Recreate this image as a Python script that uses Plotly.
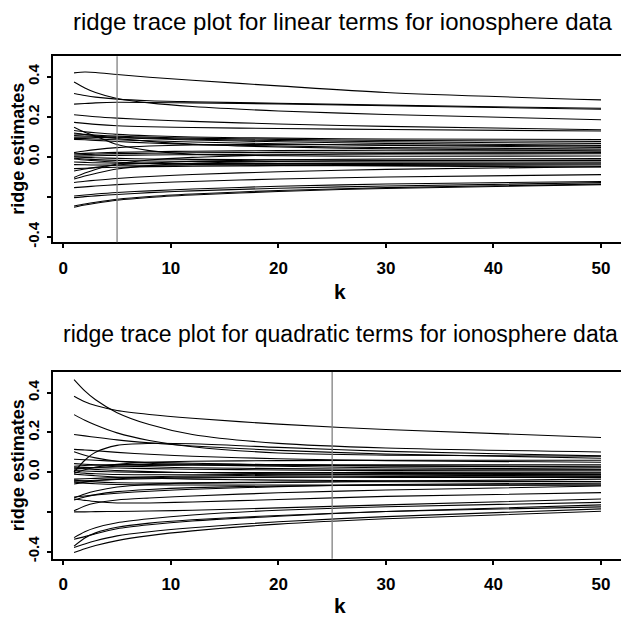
import plotly.graph_objects as go

# ---------------- data ----------------
k_points = [1, 2, 3, 5, 8, 12, 20, 30, 50]

linear_traces = [
    [0.420, 0.424, 0.422, 0.412, 0.398, 0.383, 0.355, 0.322, 0.285],
    [0.374, 0.345, 0.322, 0.292, 0.270, 0.252, 0.230, 0.212, 0.186],
    [0.317, 0.307, 0.299, 0.289, 0.281, 0.276, 0.268, 0.259, 0.243],
    [0.264, 0.267, 0.270, 0.273, 0.272, 0.270, 0.265, 0.256, 0.238],
    [0.211, 0.206, 0.201, 0.194, 0.186, 0.178, 0.165, 0.153, 0.136],
    [0.173, 0.168, 0.163, 0.156, 0.151, 0.147, 0.142, 0.137, 0.130],
    [0.149, 0.124, 0.104, 0.062, 0.032, 0.014, 0.006, 0.004, 0.005],
    [0.132, 0.126, 0.121, 0.113, 0.106, 0.100, 0.094, 0.090, 0.087],
    [0.115, 0.112, 0.109, 0.104, 0.099, 0.094, 0.088, 0.083, 0.078],
    [0.107, 0.105, 0.103, 0.099, 0.094, 0.089, 0.082, 0.076, 0.068],
    [0.099, 0.099, 0.098, 0.096, 0.091, 0.085, 0.076, 0.068, 0.058],
    [0.093, 0.092, 0.090, 0.086, 0.081, 0.075, 0.066, 0.058, 0.048],
    [0.088, 0.086, 0.083, 0.077, 0.070, 0.063, 0.055, 0.047, 0.040],
    [0.016, 0.018, 0.020, 0.023, 0.026, 0.029, 0.032, 0.034, 0.035],
    [0.010, 0.012, 0.014, 0.017, 0.019, 0.021, 0.023, 0.024, 0.025],
    [0.004, 0.005, 0.006, 0.008, 0.010, 0.012, 0.014, 0.015, 0.016],
    [0.000, -0.002, -0.004, -0.007, -0.010, -0.012, -0.014, -0.016, -0.017],
    [-0.006, -0.010, -0.013, -0.017, -0.020, -0.022, -0.024, -0.025, -0.025],
    [-0.025, -0.027, -0.029, -0.031, -0.032, -0.033, -0.033, -0.032, -0.030],
    [-0.038, -0.039, -0.040, -0.041, -0.041, -0.040, -0.039, -0.037, -0.035],
    [-0.058, -0.056, -0.054, -0.051, -0.048, -0.046, -0.044, -0.042, -0.040],
    [-0.102, -0.080, -0.062, -0.035, -0.015, -0.002, 0.010, 0.017, 0.022],
    [-0.110, -0.095, -0.082, -0.060, -0.043, -0.031, -0.022, -0.018, -0.017],
    [-0.127, -0.121, -0.116, -0.107, -0.097, -0.087, -0.074, -0.062, -0.048],
    [-0.153, -0.149, -0.145, -0.138, -0.130, -0.122, -0.110, -0.100, -0.088],
    [-0.195, -0.190, -0.185, -0.177, -0.169, -0.160, -0.146, -0.135, -0.122],
    [-0.203, -0.198, -0.194, -0.187, -0.178, -0.169, -0.156, -0.145, -0.128],
    [-0.245, -0.235, -0.226, -0.211, -0.197, -0.185, -0.167, -0.153, -0.135],
    [-0.251, -0.240, -0.231, -0.216, -0.202, -0.190, -0.172, -0.157, -0.138],
    [0.022, 0.030, 0.037, 0.047, 0.055, 0.060, 0.062, 0.060, 0.055],
    [-0.070, -0.060, -0.052, -0.040, -0.030, -0.022, -0.014, -0.010, -0.008],
    [0.120, 0.113, 0.105, 0.092, 0.078, 0.064, 0.050, 0.041, 0.030],
    [-0.010, -0.015, -0.019, -0.026, -0.032, -0.037, -0.042, -0.045, -0.050],
]

quadratic_traces = [
    [0.383, 0.355, 0.336, 0.311, 0.291, 0.272, 0.242, 0.215, 0.175],
    [0.467, 0.410, 0.365, 0.300, 0.240, 0.190, 0.145, 0.122, 0.102],
    [0.290, 0.262, 0.238, 0.198, 0.160, 0.128, 0.097, 0.086, 0.080],
    [0.000, 0.060, 0.100, 0.135, 0.145, 0.143, 0.125, 0.105, 0.082],
    [0.190, 0.183, 0.176, 0.163, 0.148, 0.132, 0.110, 0.092, 0.070],
    [0.115, 0.112, 0.108, 0.100, 0.090, 0.080, 0.068, 0.058, 0.050],
    [0.103, 0.085, 0.072, 0.055, 0.045, 0.040, 0.038, 0.037, 0.037],
    [0.065, 0.063, 0.060, 0.055, 0.050, 0.045, 0.037, 0.031, 0.025],
    [0.043, 0.040, 0.037, 0.032, 0.027, 0.022, 0.018, 0.015, 0.015],
    [0.025, 0.024, 0.023, 0.021, 0.018, 0.015, 0.011, 0.008, 0.007],
    [0.015, 0.020, 0.024, 0.030, 0.034, 0.036, 0.035, 0.032, 0.027],
    [0.008, 0.006, 0.004, 0.001, -0.001, -0.002, -0.002, -0.001, 0.000],
    [0.000, -0.005, -0.008, -0.012, -0.013, -0.013, -0.010, -0.007, -0.005],
    [-0.005, 0.012, 0.025, 0.040, 0.050, 0.055, 0.058, 0.060, 0.060],
    [-0.035, -0.033, -0.031, -0.027, -0.023, -0.019, -0.015, -0.013, -0.012],
    [-0.045, -0.043, -0.041, -0.037, -0.033, -0.029, -0.025, -0.022, -0.020],
    [-0.060, -0.050, -0.043, -0.034, -0.028, -0.025, -0.025, -0.026, -0.027],
    [-0.040, -0.045, -0.049, -0.053, -0.055, -0.055, -0.052, -0.045, -0.035],
    [-0.130, -0.110, -0.095, -0.075, -0.062, -0.054, -0.050, -0.048, -0.047],
    [-0.135, -0.142, -0.148, -0.155, -0.155, -0.150, -0.138, -0.122, -0.103],
    [-0.140, -0.125, -0.113, -0.098, -0.087, -0.078, -0.070, -0.066, -0.065],
    [-0.125, -0.120, -0.115, -0.106, -0.096, -0.086, -0.073, -0.062, -0.055],
    [-0.195, -0.170, -0.155, -0.140, -0.130, -0.120, -0.104, -0.090, -0.070],
    [-0.200, -0.200, -0.199, -0.198, -0.196, -0.192, -0.180, -0.165, -0.135],
    [-0.330, -0.300, -0.280, -0.255, -0.235, -0.216, -0.192, -0.174, -0.152],
    [-0.338, -0.325, -0.310, -0.285, -0.265, -0.246, -0.222, -0.198, -0.165],
    [-0.373, -0.332, -0.306, -0.278, -0.257, -0.240, -0.218, -0.198, -0.175],
    [-0.380, -0.362, -0.346, -0.321, -0.300, -0.280, -0.250, -0.224, -0.185],
    [-0.405, -0.386, -0.370, -0.345, -0.320, -0.296, -0.262, -0.235, -0.197],
    [0.020, 0.017, 0.014, 0.008, 0.003, -0.002, -0.008, -0.014, -0.020],
    [-0.010, -0.014, -0.018, -0.024, -0.030, -0.035, -0.040, -0.043, -0.047],
    [0.030, 0.034, 0.036, 0.038, 0.038, 0.036, 0.030, 0.022, 0.015],
    [-0.050, -0.055, -0.058, -0.062, -0.064, -0.065, -0.065, -0.065, -0.065],
]

chosen_k_linear = 5
chosen_k_quadratic = 25

x_tickvals = [0, 10, 20, 30, 40, 50]
y_tickvals = [-0.4, -0.2, 0.0, 0.2, 0.4]
y_ticktext = ["-0.4", "", "0.0", "0.2", "0.4"]

title_linear = "ridge trace plot for linear terms for ionosphere data"
title_quadratic = "ridge trace plot for quadratic terms for ionosphere data"
x_title = "k"
y_title = "ridge estimates"

# ---------------- figure ----------------
W, H = 621, 622
fig = go.Figure()

for tr in linear_traces:
    fig.add_trace(go.Scatter(x=k_points, y=tr, mode="lines", xaxis="x", yaxis="y",
                             line=dict(color="black", width=1.1, shape="spline", smoothing=0.8),
                             showlegend=False, hoverinfo="skip"))
for tr in quadratic_traces:
    fig.add_trace(go.Scatter(x=k_points, y=tr, mode="lines", xaxis="x2", yaxis="y2",
                             line=dict(color="black", width=1.1, shape="spline", smoothing=0.8),
                             showlegend=False, hoverinfo="skip"))

def px_x(p):
    return p / W

def px_y(p):
    return 1 - p / H

FONT = "Liberation Sans Narrow, Arial Narrow, Liberation Sans, Arial, sans-serif"
FONT_REG = "Liberation Sans, Arial, sans-serif"

xcommon = dict(range=[-0.93, 51.86], tickvals=x_tickvals, showgrid=False, zeroline=False,
               showline=True, linecolor="black", linewidth=2, mirror=True,
               ticks="outside", ticklen=4, tickwidth=1.5, tickcolor="black",
               tickfont=dict(family=FONT, size=17, color="black", weight="bold"),
               ticklabelstandoff=5)
ycommon = dict(tickvals=y_tickvals, ticktext=y_ticktext, showgrid=False, zeroline=False,
               showline=True, linecolor="black", linewidth=2, mirror=False,
               ticks="outside", ticklen=4, tickwidth=1.5, tickcolor="black",
               tickangle=-90, ticklabelstandoff=2,
               tickfont=dict(family=FONT_REG, size=15, color="black", weight="bold"))

fig.update_layout(
    width=W, height=H,
    margin=dict(l=0, r=0, t=0, b=0),
    paper_bgcolor="white", plot_bgcolor="white",
    xaxis=dict(domain=[px_x(53.3), 1.0], anchor="y", **xcommon),
    yaxis=dict(domain=[px_y(244.3), px_y(56.7)], anchor="x", range=[-0.426, 0.503], **ycommon),
    xaxis2=dict(domain=[px_x(53.3), 1.0], anchor="y2", **xcommon),
    yaxis2=dict(domain=[px_y(563.3), px_y(375)], anchor="x2", range=[-0.4365, 0.505], **ycommon),
)

# reference lines for chosen k
fig.add_shape(type="line", xref="x", yref="y domain", x0=chosen_k_linear, x1=chosen_k_linear,
              y0=0, y1=1, line=dict(color="#808080", width=1.3))
fig.add_shape(type="line", xref="x2", yref="y2 domain", x0=chosen_k_quadratic, x1=chosen_k_quadratic,
              y0=0, y1=1, line=dict(color="#808080", width=1.3))

annos = [
    dict(text=title_linear, x=px_x(342.6), y=px_y(22), font=dict(family=FONT_REG, size=24, color="black")),
    dict(text=title_quadratic, x=px_x(340), y=px_y(337), font=dict(family=FONT_REG, size=23, color="black")),
    dict(text=x_title, x=px_x(339.5), y=px_y(294), font=dict(family=FONT, size=21, color="black", weight="bold")),
    dict(text=x_title, x=px_x(339.5), y=px_y(610), font=dict(family=FONT, size=21, color="black", weight="bold")),
    dict(text=y_title, x=px_x(18), y=px_y(150), textangle=-90, font=dict(family=FONT_REG, size=18, color="black", weight="bold")),
    dict(text=y_title, x=px_x(18), y=px_y(469), textangle=-90, font=dict(family=FONT_REG, size=18, color="black", weight="bold")),
]
for a in annos:
    fig.add_annotation(xref="paper", yref="paper", showarrow=False, xanchor="center", yanchor="middle", **a)

fig.write_html("out.html")
